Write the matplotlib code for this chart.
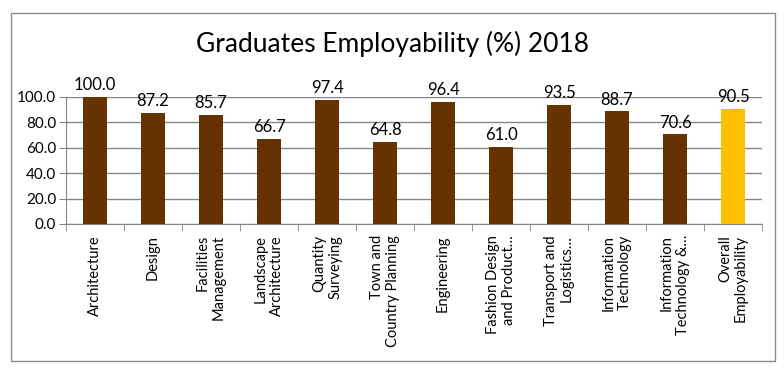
import matplotlib.pyplot as plt
import numpy as np

categories = ["Architecture", "Design", "Facilities\nManagement", "Landscape\nArchitecture",
              "Quantity\nSurveying", "Town and\nCountry Planning", "Engineering",
              "Fashion Design\nand Product\u2026", "Transport and\nLogistics\u2026",
              "Information\nTechnology", "Information\nTechnology &\u2026", "Overall\nEmployability"]
values = [100.0, 87.2, 85.7, 66.7, 97.4, 64.8, 96.4, 61.0, 93.5, 88.7, 70.6, 90.5]
colors = ["#663300"] * 11 + ["#FFC000"]

plt.rcParams['font.family'] = ['Lato', 'DejaVu Sans']

fig = plt.figure(figsize=(7.84, 3.74), dpi=100)
# outer chart border
fig.patches.append(plt.Rectangle((11 / 784, 13 / 374), 764 / 784, 348 / 374, transform=fig.transFigure,
                                 fill=False, edgecolor="#8c8c8c", linewidth=1))
ax = fig.add_axes([66 / 784, 1 - 224 / 374, 696 / 784, 127 / 374])

x = np.arange(len(values))
ax.bar(x, values, width=0.4, color=colors, zorder=3)
for xi, v in zip(x, values):
    ax.text(xi, v + 3, f"{v:.1f}", ha="center", va="bottom", fontsize=12, color="black")

ax.set_xlim(-0.5, len(values) - 0.5)
ax.set_ylim(0, 100)
ax.set_yticks(np.arange(0, 101, 20))
ax.set_yticklabels([f"{t:.1f}" for t in range(0, 101, 20)], fontsize=11)
ax.yaxis.grid(True, color="#868686", linewidth=1, zorder=0)

ax.set_xticks(x)
ax.set_xticklabels(categories, rotation=90, fontsize=10.5, va="top", ha="center", multialignment="right")
ax.tick_params(axis="x", length=0, pad=8)
ax.set_xticks(np.arange(-0.5, len(values), 1), minor=True)
ax.tick_params(axis="x", which="minor", length=5, color="#868686", direction="out")
ax.tick_params(axis="y", length=5, color="#868686", pad=2)

for s in ["top", "right"]:
    ax.spines[s].set_visible(False)
ax.spines["left"].set_color("#868686")
ax.spines["bottom"].set_color("#868686")

fig.text(0.5, 1 - 44 / 374, "Graduates Employability (%) 2018", ha="center", va="center", fontsize=19)

fig.savefig("out.png", dpi=100)
